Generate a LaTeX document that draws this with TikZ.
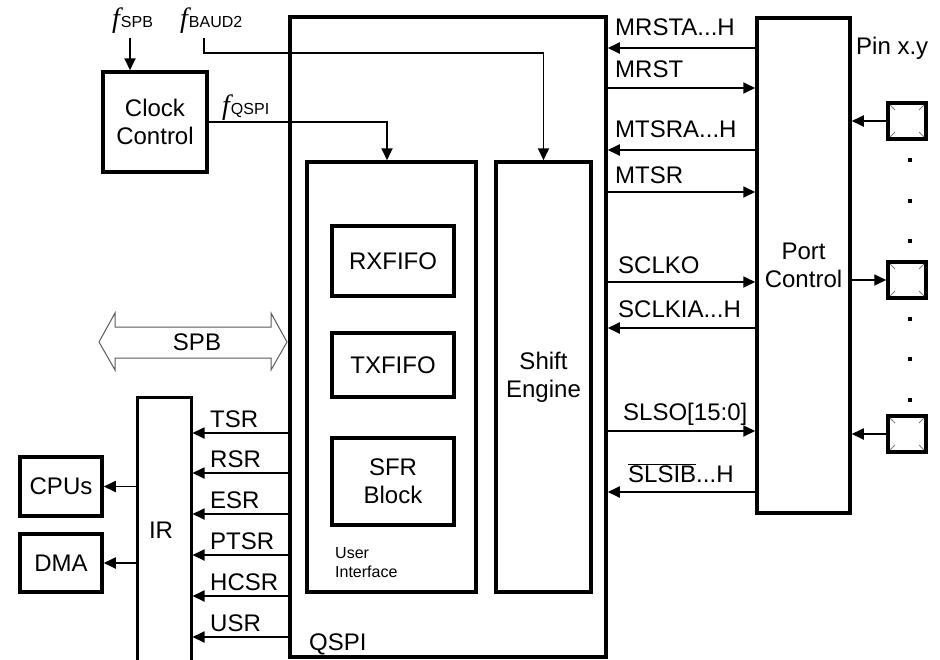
\documentclass[tikz,border=0pt]{standalone}
\usepackage{fontspec}
\setmainfont{Liberation Sans}
\newfontfamily\serf{Liberation Serif}
\usetikzlibrary{arrows.meta}
\tikzset{
  box/.style={draw, line width=3.5pt, inner sep=0pt},
  sig/.style={line width=1.8pt, -{Triangle[length=12pt,width=11pt]}},
  lbl/.style={anchor=base west, inner sep=0pt},
  pad/.style={draw, line width=3.5pt, inner sep=0pt, minimum width=38pt, minimum height=36pt},
}
\newcommand{\fsig}[1]{{\serf\itshape\fontsize{28}{28}\selectfont f}\kern1pt{\fontsize{16}{16}\selectfont #1}}
\begin{document}
\begin{tikzpicture}[x=1pt,y=-1pt,font=\fontsize{24}{28}\selectfont]
\useasboundingbox (0,0) rectangle (940,659);
% main boxes
\node[box, minimum width=316pt, minimum height=640pt] (qspi) at (448,337) {};
\node[box, minimum width=93pt, minimum height=495pt, align=center] (port) at (803.5,265.5) {Port\\Control};
\node[box, minimum width=169pt, minimum height=430pt] (ui) at (391.5,377) {};
\node[box, minimum width=95pt, minimum height=430pt, align=center] (shift) at (543.5,377) {Shift\\Engine};
\node[box, minimum width=122pt, minimum height=70pt] (rx) at (393,261) {RXFIFO};
\node[box, minimum width=122pt, minimum height=64pt] (tx) at (393,365) {TXFIFO};
\node[box, minimum width=122pt, minimum height=87pt, align=center] (sfr) at (393,481.5) {SFR\\Block};
\node[box, minimum width=104pt, minimum height=100pt, align=center] (clock) at (155,122) {Clock\\Control};
\node[box, minimum width=82pt, minimum height=59pt] (cpu) at (61,486.5) {CPUs};
\node[box, minimum width=82pt, minimum height=58pt] (dma) at (61,563) {DMA};
\node[box, line width=3pt, minimum width=54pt, minimum height=306pt] (ir) at (164,550) {};
\node (irl) at (161,530) {IR};
% texts in boxes
\node[lbl] (qspil) at (309,650) {QSPI};
\node[lbl, align=left, font=\fontsize{16}{19}\selectfont] (uil) at (335,577) {User\\Interface};
\node[lbl] (pinl) at (856,54) {Pin x.y};
% clock inputs
\node[lbl] (fspb) at (112,27) {\fsig{SPB}};
\node[lbl] (fbaud) at (180,27) {\fsig{BAUD2}};
\node[lbl] (fqspi) at (222,114) {\fsig{QSPI}};
\coordinate (fs) at (130,38);
\coordinate (fb) at (204,38);
\draw[sig] (fs) -- (fs |- clock.north);
\draw[sig] (fb) -- ++(0,15) -| (shift.north);
\draw[sig] (clock.east) -| ([xshift=-4.5pt]ui.north);
% right side signals
\draw[sig] (port.west |- 0,48) -- (qspi.east |- 0,48);
\draw[sig] (qspi.east |- 0,88) -- (port.west |- 0,88);
\draw[sig] (port.west |- 0,150) -- (qspi.east |- 0,150);
\draw[sig] (qspi.east |- 0,192) -- (port.west |- 0,192);
\draw[sig] (qspi.east |- 0,282) -- (port.west |- 0,282);
\draw[sig] (port.west |- 0,328) -- (qspi.east |- 0,328);
\draw[sig] (qspi.east |- 0,431) -- (port.west |- 0,431);
\draw[sig] (port.west |- 0,492) -- (qspi.east |- 0,492);
\node[lbl] (s1) at (615,35) {MRSTA...H};
\node[lbl] (s2) at (615,77) {MRST};
\node[lbl] (s3) at (615,137) {MTSRA...H};
\node[lbl] (s4) at (615,183) {MTSR};
\node[lbl] (s5) at (618,273) {SCLKO};
\node[lbl] (s6) at (618,317) {SCLKIA...H};
\node[lbl] (s7) at (623,420) {SLSO[15:0]};
\node[lbl] (s8) at (628,482) {$\overline{\mbox{SLSIB}}$...H};
% pads
\foreach \n/\y in {pad1/121,pad2/280,pad3/434}{
  \node[pad] (\n) at (907,\y) {};
  \foreach \dx/\dy in {1/1,-1/1,1/-1,-1/-1}
    \draw[gray, line width=0.8pt] ([xshift=\dx*17pt, yshift=\dy*16pt]\n.center) -- ++(-\dx*5,\dy*5);
}
\draw[sig] (pad1.west) -- (port.east |- pad1.west);
\draw[sig] (port.east |- pad2.west) -- (pad2.west);
\draw[sig] (pad3.west) -- (port.east |- pad3.west);
\foreach \y in {158,199,239,317,357,398}
  \fill (907.5,\y) rectangle ++(4,4);
% SPB bus
\draw[gray!70!black, line width=1pt] (99,342) -- (115,313) -- (115,327) -- (271,327) -- (271,313) -- (287,342) -- (271,370) -- (271,358) -- (115,358) -- (115,370) -- cycle;
\node (spb) at (197,342) {SPB};
% IR signals
\foreach \nm/\y/\t in {t1/433/TSR,t2/473/RSR,t3/514/ESR,t4/555/PTSR,t5/596/HCSR,t6/637/USR}{
  \draw[sig] (qspi.west |- 0,\y) -- (ir.east |- 0,\y);
  \node[lbl] (\nm) at (210,\y-6) {\t};
}
\draw[sig] (ir.west |- cpu.east) -- (cpu.east);
\draw[sig] (ir.west |- dma.east) -- (dma.east);
\end{tikzpicture}
\end{document}
